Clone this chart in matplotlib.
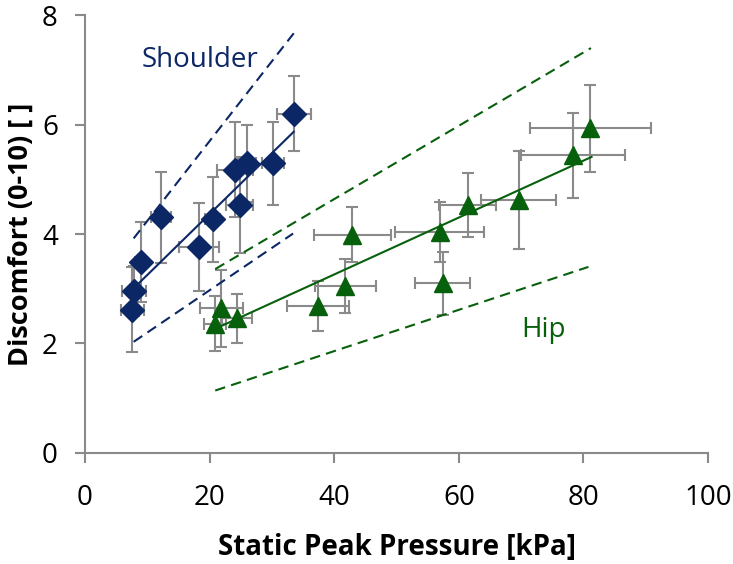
import matplotlib.pyplot as plt

# shoulder data
sh_x    = [7.6, 7.9, 9.0, 12.2, 18.3, 20.5, 24.1, 26.0, 24.8, 30.2, 33.5]
sh_y    = [2.62, 2.96, 3.49, 4.31, 3.76, 4.27, 5.18, 5.29, 4.53, 5.29, 6.20]
sh_xerr = [1.9, 1.9, 1.0, 1.6, 3.2, 1.2, 2.9, 1.5, 2.1, 1.8, 2.75]
sh_yerr = [0.77, 0.45, 0.73, 0.83, 0.8, 0.78, 0.87, 0.7, 0.88, 0.75, 0.69]

# hip data
hip_x    = [20.9, 21.9, 24.4, 37.4, 41.8, 42.9, 56.9, 57.4, 61.4, 69.6, 78.3, 81.1]
hip_y    = [2.36, 2.64, 2.46, 2.68, 3.05, 3.99, 4.04, 3.10, 4.53, 4.62, 5.44, 5.93]
hip_xerr = [1.8, 3.5, 2.4, 5.0, 4.9, 6.2, 7.2, 4.4, 4.6, 6.0, 8.4, 9.7]
hip_yerr = [0.5, 0.7, 0.45, 0.46, 0.5, 0.5, 0.55, 0.58, 0.58, 0.9, 0.78, 0.79]

# fit lines and bands (start/end points)
sh_fit_x  = [8.0, 33.5]
sh_fit_y  = [3.03, 5.87]
sh_up_x   = [7.8, 33.5]
sh_up_y   = [3.92, 7.67]
sh_lo_x   = [7.8, 33.4]
sh_lo_y   = [2.03, 4.01]

hip_fit_x = [21.7, 81.3]
hip_fit_y = [2.31, 5.41]
hip_up_x  = [20.9, 81.2]
hip_up_y  = [3.36, 7.40]
hip_lo_x  = [20.9, 80.8]
hip_lo_y  = [1.14, 3.40]

navy  = '#0c2766'
green = '#07600b'
gray  = '#8a8a8a'

plt.rcParams['font.family'] = ['Open Sans', 'DejaVu Sans']

fig = plt.figure( figsize=(7.33, 5.64), dpi=100 )
ax = fig.add_axes( [0.116, 0.197, 0.85, 0.776] )

ebkw = dict( fmt='none', ecolor=gray, elinewidth=1.5, capsize=4.5, capthick=1.5, zorder=2 )
ax.errorbar( sh_x, sh_y, xerr=sh_xerr, yerr=sh_yerr, **ebkw )
ax.errorbar( hip_x, hip_y, xerr=hip_xerr, yerr=hip_yerr, **ebkw )

dash = (0, (5, 3))
ax.plot( sh_fit_x, sh_fit_y, color=navy, lw=1.5, zorder=3 )
ax.plot( sh_up_x, sh_up_y, color=navy, lw=1.5, ls=dash, zorder=3 )
ax.plot( sh_lo_x, sh_lo_y, color=navy, lw=1.5, ls=dash, zorder=3 )
ax.plot( hip_fit_x, hip_fit_y, color=green, lw=1.5, zorder=3 )
ax.plot( hip_up_x, hip_up_y, color=green, lw=1.5, ls=dash, zorder=3 )
ax.plot( hip_lo_x, hip_lo_y, color=green, lw=1.5, ls=dash, zorder=3 )

ax.plot( sh_x, sh_y, 'D', color=navy, ms=12, mec=navy, zorder=4, ls='none' )
ax.plot( hip_x, hip_y, '^', color=green, ms=13, mec=green, zorder=4, ls='none' )

ax.text( 18.4, 7.05, 'Shoulder', color=navy, fontsize=20, ha='center', va='baseline' )
ax.text( 73.6, 2.12, 'Hip', color=green, fontsize=20, ha='center', va='baseline' )

ax.set_xlim( 0, 100 )
ax.set_ylim( 0, 8 )
ax.set_xticks( [0, 20, 40, 60, 80, 100] )
ax.set_yticks( [0, 2, 4, 6, 8] )

for s in ['top', 'right']:
    ax.spines[s].set_visible( False )
for s in ['left', 'bottom']:
    ax.spines[s].set_color( gray )
    ax.spines[s].set_linewidth( 1.5 )

ax.tick_params( axis='both', direction='out', length=7.5, width=1.5, color=gray, labelsize=20 )
ax.tick_params( axis='y', pad=12 )
ax.tick_params( axis='x', pad=15 )

ax.set_xlabel( 'Static Peak Pressure [kPa]', fontsize=20, fontweight='bold', labelpad=15 )
ax.set_ylabel( 'Discomfort (0-10) [ ]', fontsize=19.5, fontweight='bold', labelpad=6 )

fig.savefig( 'out.png', dpi=100 )
